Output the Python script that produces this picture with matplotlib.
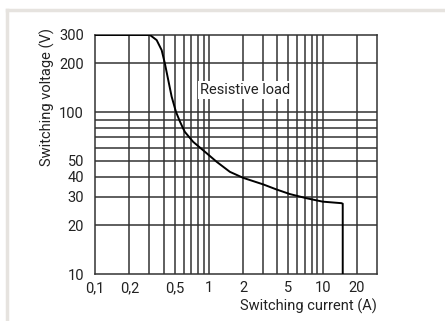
import matplotlib.pyplot as plt
from matplotlib.lines import Line2D

# %% Data
current = [0.1, 0.304, 0.348, 0.385, 0.411, 0.44, 0.471, 0.514, 0.557, 0.595, 0.616,
           0.728, 0.922, 1.17, 1.53, 2.0, 3.0, 3.93, 5.14, 7.2, 10.0, 14.6, 15.0, 15.0]
voltage = [300, 300, 279, 242, 200, 158, 125, 100.6, 87.6, 79.3, 75.5,
           65.6, 57.0, 49.4, 42.8, 39.3, 35.8, 33.3, 31.2, 29.4, 28.0, 27.4, 27.2, 10]

x_grid = [0.2, 0.3, 0.4, 0.5, 0.6, 0.7, 0.8, 0.9, 1, 2, 3, 4, 5, 6, 7, 8, 9, 10, 20]
y_grid = [20, 30, 40, 50, 60, 70, 80, 90, 100, 200]
x_ticks = [0.1, 0.2, 0.5, 1, 2, 5, 10, 20]
x_labels = ["0,1", "0,2", "0,5", "1", "2", "5", "10", "20"]
y_ticks = [10, 20, 30, 40, 50, 100, 200, 300]
y_labels = ["10", "20", "30", "40", "50", "100", "200", "300"]

# %% Style
GRID = "#333333"
TEXT = "#222222"
plt.rcParams.update({
    "font.family": "Roboto",
    "font.size": 10,
})

# %% Plot
fig = plt.figure(figsize=(4.45, 3.21), dpi=100)
ax = fig.add_axes([95 / 445, 1 - 274 / 321, (377 - 95) / 445, (274 - 35) / 321])
ax.set_xscale("log")
ax.set_yscale("log")
ax.set_xlim(0.1, 30)
ax.set_ylim(10, 300)

for x in x_grid:
    ax.axvline(x, color=GRID, lw=1.1, zorder=1)
for y in y_grid:
    ax.axhline(y, color=GRID, lw=1.1, zorder=1)

ax.plot(current, voltage, color="black", lw=1.4, zorder=3)

for s in ax.spines.values():
    s.set_color(GRID)
    s.set_linewidth(1.1)

ax.minorticks_off()
ax.set_xticks(x_ticks)
ax.set_xticklabels(x_labels)
ax.set_yticks(y_ticks)
ax.set_yticklabels(y_labels)
ax.tick_params(length=0, labelsize=10.5, colors=TEXT)
ax.tick_params(axis="y", pad=8)
ax.tick_params(axis="x", pad=5)

ax.text(0.83, 137, "Resistive load", fontsize=10.5, va="center", ha="left",
        color=TEXT, zorder=4,
        bbox=dict(facecolor="white", edgecolor="none", pad=1.5))

ax.set_xlabel("Switching current (A)", loc="right", fontsize=10.5, color=TEXT, labelpad=3)
ax.text(-0.17, 1.03, "Switching voltage (V)", transform=ax.transAxes, rotation=90,
        ha="center", va="top", fontsize=10.5, color=TEXT)

# light frame around the panel
fig.add_artist(Line2D([7 / 445, 1], [1 - 10 / 321, 1 - 10 / 321], color="#e6e3df", lw=2.5))
fig.add_artist(Line2D([7 / 445, 7 / 445], [0, 1 - 10 / 321], color="#e6e3df", lw=2.5))

fig.savefig("out.png", dpi=100)
